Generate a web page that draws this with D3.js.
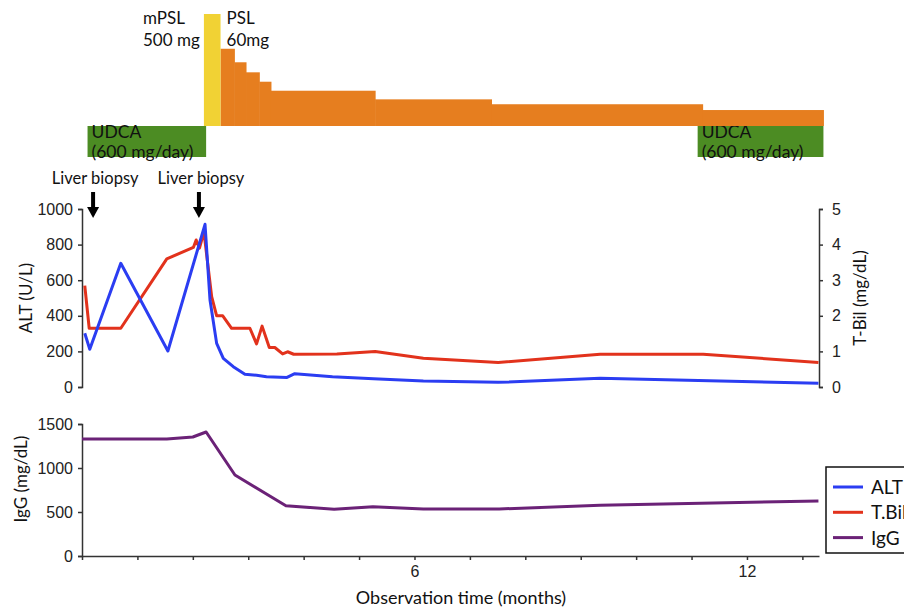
<!DOCTYPE html>
<html>
<head>
<meta charset="utf-8">
<script src="https://cdn.jsdelivr.net/npm/d3@7"></script>
<style>
  body { margin: 0; background: #fff; }
  svg { font-family: Lato, "Open Sans", sans-serif; }
  .axis path, .axis line { stroke: #333; stroke-width: 1.5; }
  .axis text { font-size: 16px; fill: #222; }
</style>
</head>
<body>
<svg id="chart" width="904" height="610"></svg>
<script>
// lab values (months from start)
const altMonths = [0.05, 0.14, 0.7, 1.55, 2.22, 2.31, 2.43, 2.55, 2.73, 2.94, 3.15, 3.33, 3.7, 3.84, 4.52, 5.26, 6.16, 7.51, 9.35, 13.29];
const altValues = [302, 212, 695, 202, 914, 489, 245, 161, 114, 71, 66, 58, 54, 75, 58, 47, 34, 26, 49, 21];

const bilMonths = [0.05, 0.13, 0.7, 1.53, 2.01, 2.06, 2.12, 2.2, 2.34, 2.43, 2.54, 2.7, 3.03, 3.15, 3.25, 3.38, 3.48, 3.62, 3.71, 3.82, 4.6, 5.29, 6.16, 7.51, 9.35, 11.21, 13.29];
const bilValues = [2.85, 1.65, 1.65, 3.6, 3.92, 4.13, 3.9, 4.36, 2.54, 2.0, 2.0, 1.65, 1.65, 1.21, 1.71, 1.11, 1.11, 0.93, 0.99, 0.92, 0.93, 1.0, 0.81, 0.69, 0.92, 0.92, 0.69];

const iggMonths = [0, 1.53, 2.0, 2.24, 2.76, 3.68, 4.55, 5.25, 6.16, 7.53, 9.35, 13.29];
const iggValues = [1330, 1330, 1352, 1409, 920, 572, 530, 560, 534, 534, 576, 625];

// treatment
const udcaStart = [0.1, 11.11];
const udcaEnd = [2.24, 13.38];
const mpslStart = 2.2, mpslEnd = 2.5, mpslDose = 500;
const pslStart = [2.5, 2.75, 2.96, 3.2, 3.41, 5.29, 7.39, 11.2];
const pslEnd   = [2.75, 2.96, 3.2, 3.41, 5.29, 7.39, 11.2, 13.38];
const pslDose  = [60, 49.5, 41.7, 34.4, 27.4, 20.7, 16.9, 12.4];
const biopsyMonths = [0.2, 2.11];

const xTicks = d3.range(0, 14);
const xLabels = [6, 12];

const blue = '#2b3df2', red = '#e2321c', purple = '#6b2277';

const svg = d3.select('#chart');

const x = d3.scaleLinear().domain([0, 13.3]).range([82, 819]);
const yAlt = d3.scaleLinear().domain([0, 1000]).range([387, 209]);
const yBil = d3.scaleLinear().domain([0, 5]).range([387, 209]);
const yIgg = d3.scaleLinear().domain([0, 1500]).range([556, 424]);
const yDose = d3.scaleLinear().domain([0, 87]).range([126, 14]).clamp(true);

// treatment bars
const bands = svg.append('g');
udcaStart.forEach((s, i) => {
  bands.append('rect')
    .attr('x', x(s)).attr('y', 126)
    .attr('width', x(udcaEnd[i]) - x(s)).attr('height', 31)
    .attr('fill', '#4c8c23');
  const t = bands.append('text')
    .attr('x', x(s) + 4).attr('y', 138)
    .style('font-size', '17.5px').attr('fill', '#111');
  t.append('tspan').attr('x', x(s) + 4).text('UDCA');
  t.append('tspan').attr('x', x(s) + 4).attr('dy', 20).text('(600 mg/day)');
});

bands.selectAll('rect.psl')
  .data(pslDose)
  .enter()
  .append('rect')
  .attr('class', 'psl')
  .attr('x', (d, i) => x(pslStart[i]))
  .attr('width', (d, i) => x(pslEnd[i]) - x(pslStart[i]) + 0.5)
  .attr('y', d => yDose(d))
  .attr('height', d => yDose(0) - yDose(d))
  .attr('fill', '#e67e1f');

bands.append('rect')
  .attr('x', x(mpslStart)).attr('width', x(mpslEnd) - x(mpslStart))
  .attr('y', yDose(mpslDose)).attr('height', yDose(0) - yDose(mpslDose))
  .attr('fill', '#f1d234');

const lab = (tx, ty, l1, l2) => {
  const t = svg.append('text').attr('x', tx).attr('y', ty)
    .style('font-size', '17px').attr('fill', '#111');
  t.append('tspan').attr('x', tx).text(l1);
  t.append('tspan').attr('x', tx).attr('dy', 22).text(l2);
};
lab(143, 24, 'mPSL', '500 mg');
lab(x(mpslEnd) + 6, 24, 'PSL', '60mg');

// biopsies
biopsyMonths.forEach(m => {
  const cx = x(m);
  svg.append('text').attr('x', cx + 2).attr('y', 184)
    .attr('text-anchor', 'middle').style('font-size', '16.5px').attr('fill', '#111')
    .text('Liver biopsy');
  svg.append('line').attr('x1', cx).attr('x2', cx).attr('y1', 192).attr('y2', 210)
    .attr('stroke', '#000').attr('stroke-width', 4);
  svg.append('path')
    .attr('d', `M${cx - 6},${207} L${cx + 6},${207} L${cx},${218} Z`)
    .attr('fill', '#000');
});

const fmt = d3.format('d');

// upper axes
svg.append('g').attr('class', 'axis')
  .attr('transform', `translate(${x(0)},0)`)
  .call(d3.axisLeft(yAlt).ticks(5).tickFormat(fmt).tickSize(4).tickSizeOuter(4).tickPadding(5));
svg.append('g').attr('class', 'axis')
  .attr('transform', `translate(${x.range()[1]},0)`)
  .call(d3.axisRight(yBil).ticks(5).tickFormat(fmt).tickSize(4).tickSizeOuter(4).tickPadding(9));

svg.append('text').attr('transform', 'translate(32,298) rotate(-90)')
  .attr('text-anchor', 'middle').style('font-size', '17px').attr('fill', '#111')
  .text('ALT (U/L)');
svg.append('text').attr('transform', 'translate(866,298) rotate(-90)')
  .attr('text-anchor', 'middle').style('font-size', '17px').attr('fill', '#111')
  .text('T-Bil (mg/dL)');

const lineAlt = d3.line().x((d, i) => x(altMonths[i])).y(d => yAlt(d));
const lineBil = d3.line().x((d, i) => x(bilMonths[i])).y(d => yBil(d));
const lineIgg = d3.line().x((d, i) => x(iggMonths[i])).y(d => yIgg(d));

svg.append('path').datum(bilValues).attr('d', lineBil)
  .attr('fill', 'none').attr('stroke', red).attr('stroke-width', 3).attr('stroke-linejoin', 'round');
svg.append('path').datum(altValues).attr('d', lineAlt)
  .attr('fill', 'none').attr('stroke', blue).attr('stroke-width', 3).attr('stroke-linejoin', 'round');

// lower panel
svg.append('g').attr('class', 'axis')
  .attr('transform', `translate(${x(0)},0)`)
  .call(d3.axisLeft(yIgg).tickValues([0, 500, 1000, 1500]).tickFormat(fmt).tickSize(4).tickSizeOuter(4).tickPadding(5));
svg.append('g').attr('class', 'axis')
  .attr('transform', `translate(0,${yIgg(0)})`)
  .call(d3.axisBottom(x).tickValues(xTicks).tickSize(4).tickSizeOuter(0).tickPadding(6)
    .tickFormat(d => xLabels.includes(d) ? d : ''));

svg.append('text').attr('transform', 'translate(27,479) rotate(-90)')
  .attr('text-anchor', 'middle').style('font-size', '17px').attr('fill', '#111')
  .text('IgG (mg/dL)');
svg.append('text').attr('x', 461).attr('y', 604)
  .attr('text-anchor', 'middle').style('font-size', '18px').attr('fill', '#111')
  .text('Observation time (months)');

svg.append('path').datum(iggValues).attr('d', lineIgg)
  .attr('fill', 'none').attr('stroke', purple).attr('stroke-width', 3).attr('stroke-linejoin', 'round');

// legend
const legendNames = ['ALT', 'T.Bil', 'IgG'];
const legendColors = [blue, red, purple];
const leg = svg.append('g').attr('transform', 'translate(826,467)');
leg.append('rect').attr('width', 110).attr('height', 86)
  .attr('fill', '#fff').attr('stroke', '#111').attr('stroke-width', 1.5);
legendNames.forEach((n, i) => {
  const ly = 20 + i * 25.3;
  leg.append('line').attr('x1', 7).attr('x2', 37).attr('y1', ly).attr('y2', ly)
    .attr('stroke', legendColors[i]).attr('stroke-width', 3);
  leg.append('text').attr('x', 45).attr('y', ly + 7)
    .style('font-size', '19px').attr('fill', '#111').text(n);
});
</script>
</body>
</html>
